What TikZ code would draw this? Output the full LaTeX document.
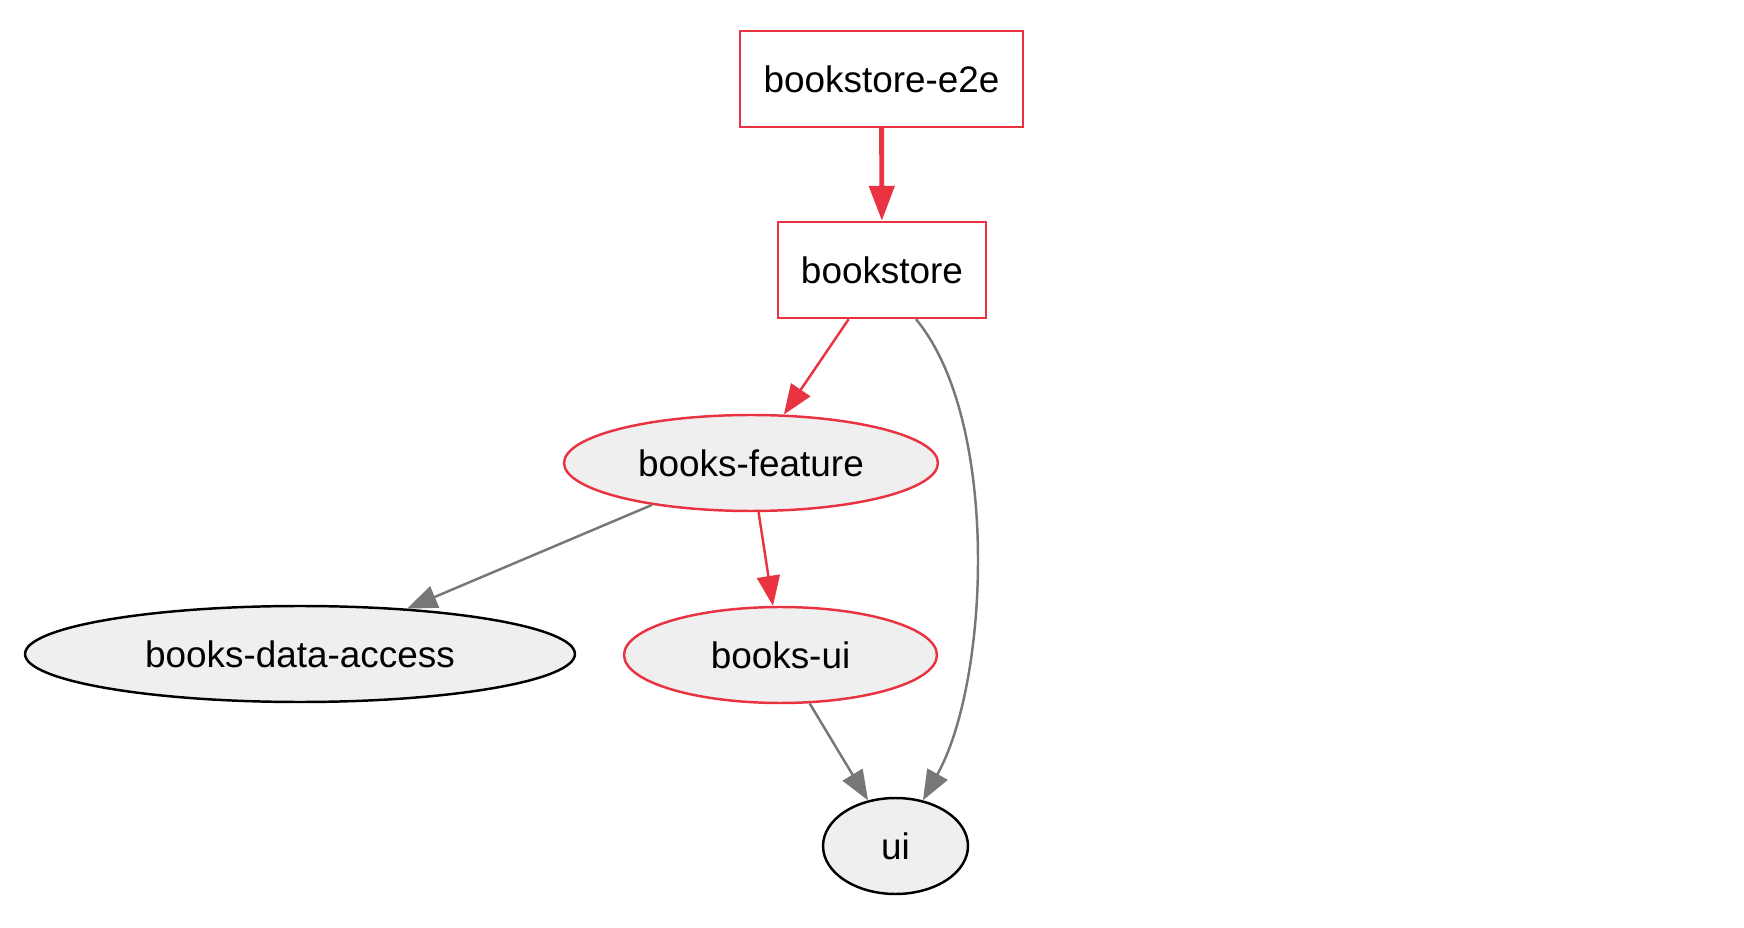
\documentclass[tikz,border=0pt]{standalone}
\usepackage{fontspec}
\setmainfont{Liberation Sans}
\usepackage{tikz}
\usetikzlibrary{positioning,arrows.meta,shapes.geometric}
\usepackage{xcolor}
\definecolor{nxred}{RGB}{233,51,64}
\definecolor{nxgray}{RGB}{119,119,119}
\definecolor{nxfill}{RGB}{239,239,239}

\begin{document}
\begin{tikzpicture}[x=0.02cm,y=-0.02cm,
  >={Triangle[length=0.6cm,width=0.46cm]},
  proj/.style={draw=nxred,line width=1.4pt,rectangle,minimum height=1.92cm,inner sep=0pt,font=\fontsize{21}{25}\selectfont},
  lib/.style={draw=black,line width=1.4pt,ellipse,fill=nxfill,minimum height=1.92cm,inner sep=0pt,font=\fontsize{21}{25}\selectfont},
  dep/.style={->,draw=nxgray,line width=1.4pt},
  hot/.style={->,draw=nxred,line width=1.4pt}]
\useasboundingbox (0,0) rectangle (1744,928);
\node[proj,minimum width=5.66cm] (e2e) at (881.5,79) {bookstore-e2e};
\node[proj,minimum width=4.16cm] (app) at (882,270) {bookstore};
\node[lib,draw=nxred,minimum width=7.48cm] (feature) at (751,463) {books-feature};
\node[lib,minimum width=11cm] (data) at (300,654) {books-data-access};
\node[lib,draw=nxred,minimum width=6.26cm] (booksui) at (780.5,655) {books-ui};
\node[lib,minimum width=2.9cm] (ui) at (895.5,846) {ui};
\draw[hot,line width=2.8pt,>={Triangle[length=0.7cm,width=0.5cm]}] (e2e) -- (app);
\draw[hot] (app) -- (feature);
\draw[dep] ([xshift=0.68cm]app.south) .. controls (1000,420) and (990,680) .. (ui.59);
\draw[dep] (feature) -- (data);
\draw[hot] (feature) -- (booksui);
\draw[dep] (booksui) -- (ui);
\end{tikzpicture}
\end{document}
